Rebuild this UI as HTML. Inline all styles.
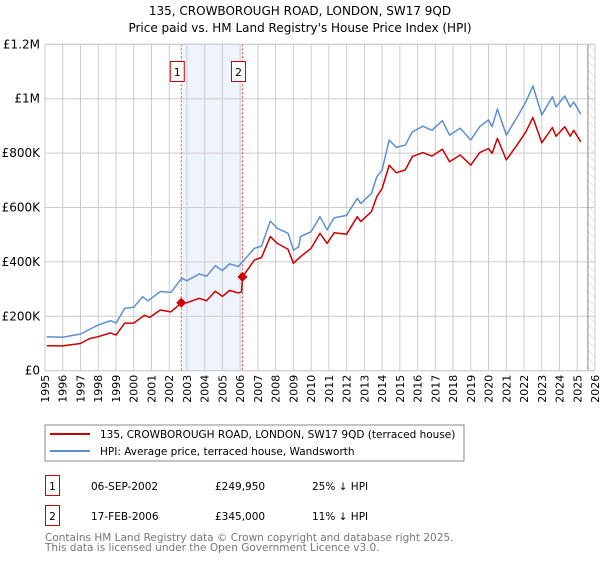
<!DOCTYPE html>
<html><head><meta charset="utf-8"><style>
body{margin:0;background:#fff;font-family:"DejaVu Sans","Liberation Sans",sans-serif;}
svg text{font-family:"DejaVu Sans","Liberation Sans",sans-serif;}
</style></head><body>
<svg id="c" width="600" height="560" xmlns="http://www.w3.org/2000/svg">
<defs><pattern id="hatch" width="6" height="6" patternUnits="userSpaceOnUse" patternTransform="rotate(-45)"><line x1="0" y1="0" x2="0" y2="6" stroke="#ccc" stroke-width="1"/></pattern></defs>
<text x="300" y="15" font-size="12" text-anchor="middle">135, CROWBOROUGH ROAD, LONDON, SW17 9QD</text>
<text x="300" y="32" font-size="12" text-anchor="middle">Price paid vs. HM Land Registry's House Price Index (HPI)</text>
<g id="plot"></g>
<rect x="45" y="425" width="419" height="36" fill="#fff" stroke="#888"/>
<line x1="50" y1="434" x2="90" y2="434" stroke="#cc0000" stroke-width="2"/>
<text x="100" y="438" font-size="10.5">135, CROWBOROUGH ROAD, LONDON, SW17 9QD (terraced house)</text>
<line x1="50" y1="451" x2="90" y2="451" stroke="#5b8fd4" stroke-width="2"/>
<text x="100" y="455" font-size="10.5">HPI: Average price, terraced house, Wandsworth</text>
<g font-size="10.5">
<rect x="45.5" y="475.5" width="14" height="20" fill="#fff" stroke="#cc0000"/>
<text x="52.5" y="490" text-anchor="middle">1</text>
<text x="91" y="490">06-SEP-2002</text>
<text x="215" y="490">£249,950</text>
<text x="312" y="490">25% ↓ HPI</text>
<rect x="45.5" y="505.5" width="14" height="20" fill="#fff" stroke="#cc0000"/>
<text x="52.5" y="520" text-anchor="middle">2</text>
<text x="91" y="520">17-FEB-2006</text>
<text x="215" y="520">£345,000</text>
<text x="312" y="520">11% ↓ HPI</text>
</g>
<text x="45" y="541" font-size="10.5" fill="#777">Contains HM Land Registry data © Crown copyright and database right 2025.</text>
<text x="45" y="551" font-size="10.5" fill="#777">This data is licensed under the Open Government Licence v3.0.</text>
</svg>
<script>
const hpiYears=[1995.1,1996,1997,1998,1998.7,1999,1999.5,2000,2000.5,2000.8,2001.5,2002.1,2002.7,2003,2003.7,2004.1,2004.6,2005,2005.4,2005.9,2006.8,2007.2,2007.7,2008.1,2008.7,2009,2009.3,2009.4,2010,2010.5,2010.9,2011.3,2012,2012.6,2012.8,2013.4,2013.7,2014,2014.4,2014.8,2015.3,2015.7,2016.3,2016.8,2017.4,2017.8,2018.4,2019,2019.5,2020,2020.2,2020.5,2021,2021.6,2022.1,2022.5,2023,2023.6,2023.8,2024.3,2024.6,2024.8,2025.2];
const hpiValues=[125,123,135,168,184,175,229,233,272,257,291,288,340,331,356,347,386,368,393,383,450,458,550,523,505,443,455,493,511,566,518,562,571,634,615,652,713,738,848,821,829,878,899,884,919,866,891,848,897,922,897,962,866,931,988,1047,940,1007,970,1010,970,988,943];
const priceYears=[1995.1,1996,1997,1997.5,1998,1998.7,1999,1999.5,2000,2000.6,2000.9,2001.5,2002.1,2002.68,2003,2003.7,2004.1,2004.6,2005,2005.4,2005.9,2006.08,2006.13,2006.8,2007.2,2007.7,2008.1,2008.7,2009,2009.4,2010,2010.5,2010.9,2011.3,2012,2012.6,2012.8,2013.4,2013.7,2014,2014.4,2014.8,2015.3,2015.7,2016.3,2016.8,2017.4,2017.8,2018.4,2019,2019.5,2020,2020.2,2020.5,2021,2021.6,2022.1,2022.5,2023,2023.6,2023.8,2024.3,2024.6,2024.8,2025.2];
const priceValues=[92,91,100,118,125,139,131,175,175,204,196,223,216,250,250,266,257,292,273,295,286,290,345,407,416,493,468,446,395,419,450,505,468,507,502,566,548,585,640,670,756,728,738,787,802,789,814,768,793,756,802,817,799,854,775,829,878,931,838,894,862,897,862,884,841];
const saleYears=[2002.68,2006.13];
const saleValues=[249.95,345];
const saleLabels=["1","2"];
const yTicks=[0,200,400,600,800,1000,1200];
const yTickLabels=["£0","£200K","£400K","£600K","£800K","£1M","£1.2M"];
const xTicks=[];for(let y=1995;y<=2026;y++)xTicks.push(y);

const X0=45,X1=595,Y0=370.7,Y1=44.3;
const xs=y=>X0+(y-1995)/(2026-1995)*(X1-X0);
const ys=v=>Y0-v/1200*(Y0-Y1);
const NS="http://www.w3.org/2000/svg";
const g=document.getElementById('plot');
function mk(t,a){const e=document.createElementNS(NS,t);for(const k in a)e.setAttribute(k,a[k]);g.appendChild(e);return e;}

let e=mk('rect',{x:xs(saleYears[0]),y:Y1,width:xs(saleYears[1])-xs(saleYears[0]),height:Y0-Y1,fill:'#eef3fc'});


e=mk('rect',{x:xs(2025.6),y:Y1,width:X1-xs(2025.6),height:Y0-Y1,fill:'url(#hatch)'});


xTicks.forEach(y=>{
 const l=mk('line',{x1:xs(y),x2:xs(y),y1:Y1,y2:Y0,stroke:'#ccc','stroke-width':1});
 
 
 const t=mk('text',{x:0,y:0,'font-size':11,'text-anchor':'end',transform:`translate(${xs(y)+4},${Y0+4}) rotate(-90)`});
 t.textContent=y;
 
 
});
yTicks.forEach((v,i)=>{
 const l=mk('line',{x1:X0,x2:X1,y1:ys(v),y2:ys(v),stroke:'#ccc','stroke-width':1});
 
 
 const t=mk('text',{x:40,y:ys(v)+4,'font-size':12,'text-anchor':'end'});
 t.textContent=yTickLabels[i];
 
 
});
e=mk('line',{x1:xs(2025.6),x2:xs(2025.6),y1:Y1,y2:Y0,stroke:'#888','stroke-width':1});


saleYears.forEach((y,i)=>{
 const l=mk('line',{x1:xs(y),x2:xs(y),y1:Y1,y2:Y0,stroke:'#dd5555','stroke-width':1,'stroke-dasharray':'2,2'});
 
 
 const r=mk('rect',{x:xs(y)-11,y:61.5,width:14,height:20,fill:'#fff',stroke:'#cc0000'});
 
 
 const t=mk('text',{x:xs(y)-4,y:76,'font-size':11,'text-anchor':'middle'});
 t.textContent=saleLabels[i];
 
 
});
const path=(xa,va)=>xa.map((y,i)=>(i?'L':'M')+xs(y).toFixed(1)+','+ys(va[i]).toFixed(1)).join('');
e=mk('path',{d:path(hpiYears,hpiValues),fill:'none',stroke:'#5b8fd4','stroke-width':1.5,'stroke-linejoin':'round'});


e=mk('path',{d:path(priceYears,priceValues),fill:'none',stroke:'#cc0000','stroke-width':1.5,'stroke-linejoin':'round'});


saleYears.forEach((y,i)=>{
 const cx=xs(y),cy=ys(saleValues[i]);
 const d=mk('path',{d:`M${cx},${cy-5}L${cx+5},${cy}L${cx},${cy+5}L${cx-5},${cy}Z`,fill:'#cc0000'});
 
 
});
e=mk('rect',{x:X0,y:Y1,width:X1-X0,height:Y0-Y1,fill:'none',stroke:'#ccc'});


</script>
</body></html>
